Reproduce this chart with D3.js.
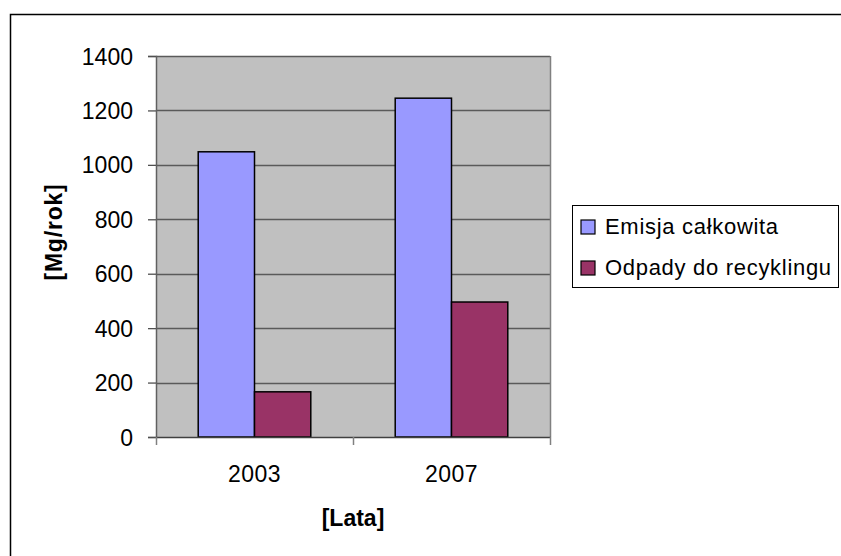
<!DOCTYPE html>
<html>
<head>
<meta charset="utf-8">
<script src="https://cdn.jsdelivr.net/npm/d3@7"></script>
<style>
  body { margin: 0; background: #fff; }
  svg { display: block; font-family: Arial, "Liberation Sans", sans-serif; }
</style>
</head>
<body>
<div id="chart"></div>
<script>
// data
const years = ["2003", "2007"];
const seriesNames = ["Emisja całkowita", "Odpady do recyklingu"];
const emisja = [1048, 1245];
const odpady = [166, 496];
const yTicks = [0, 200, 400, 600, 800, 1000, 1200, 1400];

const colors = ["#9999FF", "#993366"];

let width = 841;
let height = 556;
let plot = { left: 156, right: 550, top: 56, bottom: 437 };
let font = "Arial, 'Liberation Sans', sans-serif";

let svg = d3.select("#chart").append("svg")
  .attr("width", width)
  .attr("height", height);

// outer chart border (right/bottom run off the picture)
svg.append("rect")
  .attr("x", 10.5)
  .attr("y", 14.5)
  .attr("width", width)
  .attr("height", height)
  .attr("fill", "none")
  .attr("stroke", "#000")
  .attr("stroke-width", 1.5);

let x0 = d3.scaleBand()
  .domain(years)
  .range([plot.left, plot.right]);

// gap width 150% -> outer padding 0.75 bar on each side
let x1 = d3.scaleBand()
  .domain(seriesNames)
  .range([0, x0.bandwidth()])
  .paddingOuter(0.75)
  .paddingInner(0);

let y = d3.scaleLinear()
  .domain([0, 1400])
  .range([plot.bottom, plot.top]);

// plot area
svg.append("rect")
  .attr("x", plot.left)
  .attr("y", plot.top)
  .attr("width", plot.right - plot.left)
  .attr("height", plot.bottom - plot.top)
  .attr("fill", "#C0C0C0");

// grid lines
svg.append("g")
  .selectAll("line")
  .data(yTicks.filter(d => d > 0))
  .enter()
  .append("line")
  .attr("x1", plot.left)
  .attr("x2", plot.right)
  .attr("y1", d => Math.round(y(d)) + 0.5)
  .attr("y2", d => Math.round(y(d)) + 0.5)
  .attr("stroke", "#5a5a5a")
  .attr("stroke-width", 1.3);

// right border of plot area
svg.append("line")
  .attr("x1", plot.right + 0.5).attr("x2", plot.right + 0.5)
  .attr("y1", plot.top).attr("y2", plot.bottom)
  .attr("stroke", "#808080")
  .attr("stroke-width", 1.5);

// bars
let rows = years.map((yr, i) => ({ year: yr, values: [emisja[i], odpady[i]] }));

let group = svg.selectAll("g.bar")
  .data(rows)
  .enter()
  .append("g")
  .attr("class", "bar")
  .attr("transform", d => `translate(${x0(d.year)}, 0)`);

group.selectAll("rect")
  .data(d => d.values.map((v, j) => ({ name: seriesNames[j], value: v, j: j })))
  .enter()
  .append("rect")
  .attr("x", d => x1(d.name))
  .attr("y", d => y(d.value))
  .attr("width", x1.bandwidth())
  .attr("height", d => y(0) - y(d.value))
  .attr("fill", d => colors[d.j])
  .attr("stroke", "#000")
  .attr("stroke-width", 1.5);

// y axis
let yAxis = d3.axisLeft(y)
  .tickValues(yTicks)
  .tickFormat(d3.format("d"))
  .tickSize(8)
  .tickPadding(15);

let gy = svg.append("g")
  .attr("transform", `translate(${plot.left}, 0)`)
  .call(yAxis);
gy.select(".domain").attr("stroke", "#606060").attr("stroke-width", 1.5);
gy.selectAll(".tick line").attr("stroke", "#505050").attr("stroke-width", 1.3);
gy.selectAll("text")
  .attr("font-size", 23)
  .attr("dy", "0.35em")
  .attr("fill", "#000")
  .attr("font-family", font);

// x axis
let xAxis = d3.axisBottom(x0)
  .tickSize(0)
  .tickPadding(28);

let gx = svg.append("g")
  .attr("transform", `translate(0, ${plot.bottom})`)
  .call(xAxis);
gx.select(".domain").attr("stroke", "#404040").attr("stroke-width", 1.5);
gx.selectAll("text")
  .attr("y", 45)
  .attr("dy", 0)
  .attr("font-size", 23)
  .attr("letter-spacing", 0.5)
  .attr("fill", "#000")
  .attr("font-family", font);

// category separator ticks
let sepTicks = [plot.left, x0(years[1]), plot.right];
gx.selectAll("line.sep")
  .data(sepTicks)
  .enter()
  .append("line")
  .attr("class", "sep")
  .attr("x1", d => d + 0.5)
  .attr("x2", d => d + 0.5)
  .attr("y1", 0)
  .attr("y2", 8)
  .attr("stroke", "#808080")
  .attr("stroke-width", 1.5);

// axis titles
svg.append("text")
  .attr("transform", "translate(62, 232) rotate(-90)")
  .attr("text-anchor", "middle")
  .attr("font-size", 23)
  .attr("font-weight", "bold")
  .attr("letter-spacing", 0.8)
  .text("[Mg/rok]");

svg.append("text")
  .attr("x", (plot.left + plot.right) / 2)
  .attr("y", 526)
  .attr("text-anchor", "middle")
  .attr("font-size", 23)
  .attr("font-weight", "bold")
  .text("[Lata]");

// legend
let legend = svg.append("g").attr("transform", "translate(572, 205)");
legend.append("rect")
  .attr("x", 0.5)
  .attr("y", 0.5)
  .attr("width", 266)
  .attr("height", 82)
  .attr("fill", "#fff")
  .attr("stroke", "#000")
  .attr("stroke-width", 1);

let item = legend.selectAll("g.item")
  .data(seriesNames)
  .enter()
  .append("g")
  .attr("class", "item")
  .attr("transform", (d, i) => `translate(9, ${15 + i * 41})`);

item.append("rect")
  .attr("width", 14)
  .attr("height", 14)
  .attr("fill", (d, i) => colors[i])
  .attr("stroke", "#000")
  .attr("stroke-width", 1.2);

item.append("text")
  .attr("x", 24)
  .attr("y", 14)
  .attr("font-size", 22)
  .attr("letter-spacing", 0.7)
  .text(d => d);
</script>
</body>
</html>
